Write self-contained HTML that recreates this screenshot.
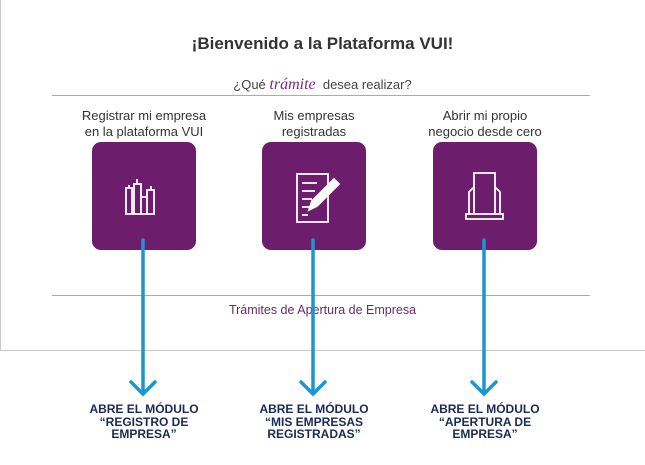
<!DOCTYPE html>
<html><head><meta charset="utf-8"><style>
body{margin:0;width:645px;height:465px;background:#fff;position:relative;overflow:hidden;font-family:"Liberation Sans",sans-serif}
.a{position:absolute}
.t{text-align:center;color:#333}
.box{position:absolute;top:142px;width:104px;height:108px;background:#6c1d6c;border-radius:9px}
.lbl{position:absolute;width:160px;text-align:center;font-size:13px;line-height:16px;color:#333;top:108px}
.bot{position:absolute;width:160px;text-align:center;font-size:12px;line-height:12.5px;color:#1a2a55;font-weight:bold;top:403px}
</style></head><body>
<div class="a" style="left:0;top:0;width:1px;height:351px;background:#c8c8c8"></div>
<div class="a" style="left:0;top:350px;width:645px;height:1px;background:#c8c8c8"></div>
<div class="a t" style="left:0;width:645px;top:34px;font-size:17px;font-weight:bold;color:#333">¡Bienvenido a la Plataforma VUI!</div>
<div class="a t" style="left:0;width:645px;top:76px;font-size:13px;color:#444">¿Qué <span style="font-family:'Liberation Serif',serif;font-style:italic;color:#7a2a8a;font-size:16px">trámite</span>&nbsp; desea realizar?</div>
<div class="a" style="left:52px;top:95px;width:538px;height:1px;background:#aaa"></div>
<div class="a" style="left:52px;top:295px;width:538px;height:1px;background:#aaa"></div>
<div class="a t" style="left:0;width:645px;top:303px;font-size:12.5px;color:#6a2a6a">Trámites de Apertura de Empresa</div>
<div class="lbl" style="left:64px">Registrar mi empresa<br>en la plataforma VUI</div>
<div class="lbl" style="left:234px">Mis empresas<br>registradas</div>
<div class="lbl" style="left:405px">Abrir mi propio<br>negocio desde cero</div>
<div class="box" style="left:92px"></div>
<div class="box" style="left:262px"></div>
<div class="box" style="left:433px"></div>
<svg class="a" style="left:0;top:0" width="645" height="465">
<g fill="none" stroke="#fff" stroke-width="1.8">
<path d="M126 214V188h6v26M134 214V184h7v30M141 197h6v17M147 214V190h7v24M125 214h30M129 188v-3M137 184v-5M151 190v-4"/>
<path d="M297 174h31v48h-31z M302 183h15M302 191h13M302 199h10M302 207h8M302 215h6"/>
<path d="M309 210l3-9 22-22 5 5-22 22z" fill="#fff"/>
<path d="M474 214v-41h21v41M469 214v-22l5-5M500 214v-22l-5-5M466 214h37v5h-37z"/>
</g>
<g stroke="#1a96d0" stroke-width="3.5" fill="none" stroke-linecap="round">
<path d="M143 240V394M131 382l12 12 12-12"/>
<path d="M313 240V394M301 382l12 12 12-12"/>
<path d="M484 240V394M472 382l12 12 12-12"/>
</g>
</svg>
<div class="bot" style="left:64px">ABRE EL MÓDULO<br>“REGISTRO DE<br>EMPRESA”</div>
<div class="bot" style="left:234px">ABRE EL MÓDULO<br>“MIS EMPRESAS<br>REGISTRADAS”</div>
<div class="bot" style="left:405px">ABRE EL MÓDULO<br>“APERTURA DE<br>EMPRESA”</div>
</body></html>
